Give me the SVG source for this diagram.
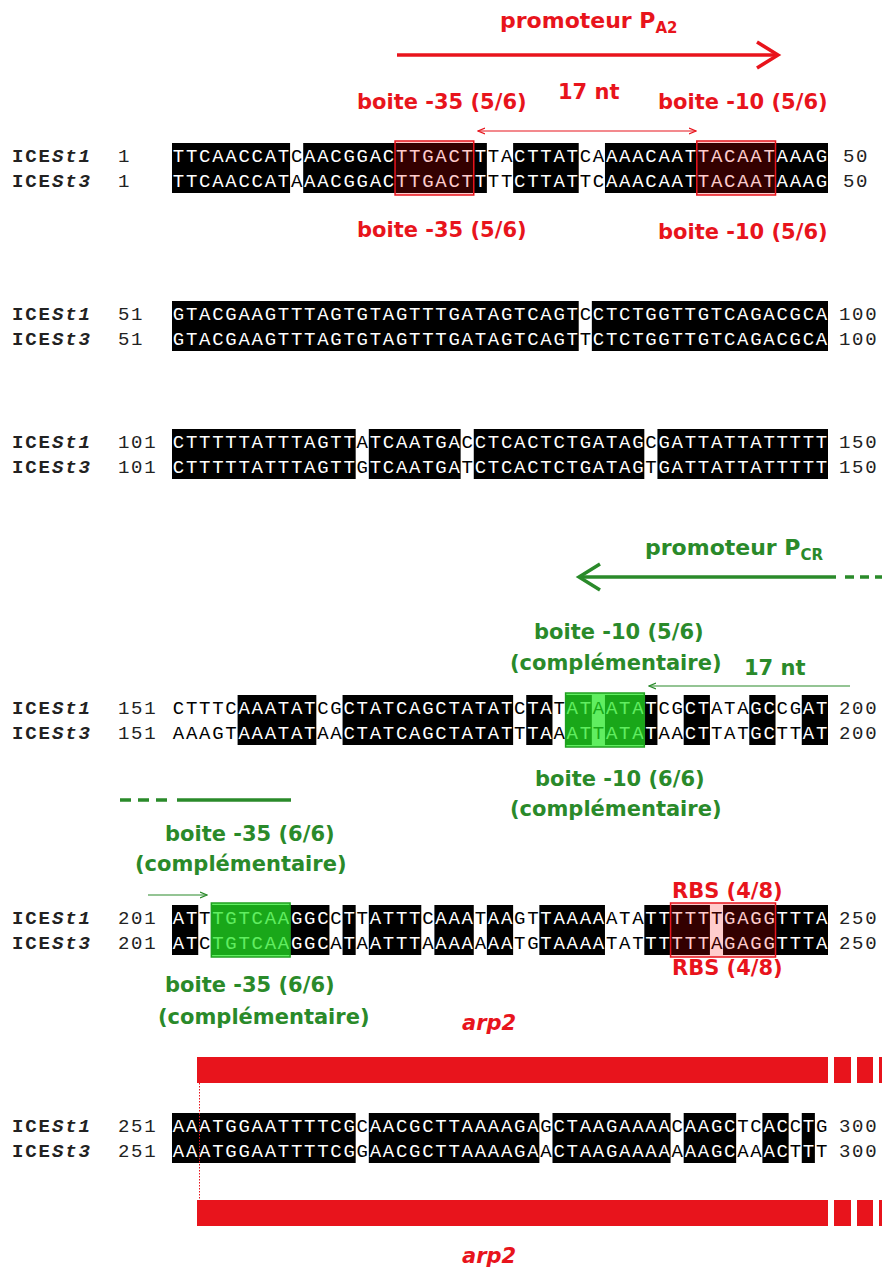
<svg xmlns="http://www.w3.org/2000/svg" width="882" height="1267" viewBox="0 0 882 1267">
<style>
.seq{font-family:"Liberation Mono",monospace;font-size:19px;letter-spacing:1.72px}
.w{fill:#fff}.k{fill:#000}
.lab{font-family:"Liberation Mono",monospace;font-weight:bold;font-size:19px;letter-spacing:1.9px;fill:#222}
.it{font-style:italic}
.num{font-family:"Liberation Mono",monospace;font-size:19px;letter-spacing:1.7px;fill:#222}
.ann{font-family:"DejaVu Sans",sans-serif;font-weight:bold;font-size:21px}
.big{font-size:22px}
.sub{font-size:15px}
.r{fill:#e8141c}.g{fill:#2a8a2a}
.blk{fill:#000}
.rbox{fill:#ff0000;fill-opacity:0.2;stroke:#e8141c;stroke-width:1.5}
.gbox{fill:#22e822;fill-opacity:0.72;stroke:#1fa01f;stroke-width:1.5}
.rl{stroke:#e8141c;fill:none}
.gl{stroke:#2a8a2a;fill:none}
.bar{fill:#e8141c}
</style>
<defs>
<marker id="ahr" markerWidth="8" markerHeight="8" refX="7" refY="4" orient="auto-start-reverse" markerUnits="userSpaceOnUse"><path d="M0,1 L7,4 L0,7" fill="none" stroke="#e8141c" stroke-width="1.2"/></marker>
<marker id="ahg" markerWidth="8" markerHeight="8" refX="7" refY="4" orient="auto-start-reverse" markerUnits="userSpaceOnUse"><path d="M0,1 L7,4 L0,7" fill="none" stroke="#2a8a2a" stroke-width="1.2"/></marker>
</defs>
<rect width="882" height="1267" fill="#fff"/>

<!-- Row 1 -->
<g id="row1">
<rect class="blk" x="172" y="143" width="118.08" height="50"/>
<rect class="blk" x="303.2" y="143" width="183.68" height="50"/>
<rect class="blk" x="513.12" y="143" width="65.6" height="50"/>
<rect class="blk" x="604.96" y="143" width="223.04" height="50"/>
<text class="lab" x="12" y="162">ICE<tspan class="it">St1</tspan></text>
<text class="lab" x="12" y="187">ICE<tspan class="it">St3</tspan></text>
<text class="num" x="118" y="162">1</text>
<text class="num" x="118" y="187">1</text>
<text class="seq" x="172.86" y="162"><tspan class="w">TTCAACCAT</tspan><tspan class="k">C</tspan><tspan class="w">AACGGACTTGACTT</tspan><tspan class="k">TA</tspan><tspan class="w">CTTAT</tspan><tspan class="k">CA</tspan><tspan class="w">AAACAATTACAATAAAG</tspan></text>
<text class="seq" x="172.86" y="187"><tspan class="w">TTCAACCAT</tspan><tspan class="k">A</tspan><tspan class="w">AACGGACTTGACTT</tspan><tspan class="k">TT</tspan><tspan class="w">CTTAT</tspan><tspan class="k">TC</tspan><tspan class="w">AAACAATTACAATAAAG</tspan></text>
<text class="num" x="843" y="162">50</text>
<text class="num" x="843" y="187">50</text>
<rect class="rbox" x="395.04" y="141" width="78.72" height="54"/>
<rect class="rbox" x="696.8" y="141" width="78.72" height="54"/>
</g>

<!-- Row 2 -->
<g id="row2">
<rect class="blk" x="172" y="301" width="406.72" height="50"/>
<rect class="blk" x="591.84" y="301" width="236.16" height="50"/>
<text class="lab" x="12" y="320">ICE<tspan class="it">St1</tspan></text>
<text class="lab" x="12" y="345">ICE<tspan class="it">St3</tspan></text>
<text class="num" x="118" y="320">51</text>
<text class="num" x="118" y="345">51</text>
<text class="seq" x="172.86" y="320"><tspan class="w">GTACGAAGTTTAGTGTAGTTTGATAGTCAGT</tspan><tspan class="k">C</tspan><tspan class="w">CTCTGGTTGTCAGACGCA</tspan></text>
<text class="seq" x="172.86" y="345"><tspan class="w">GTACGAAGTTTAGTGTAGTTTGATAGTCAGT</tspan><tspan class="k">T</tspan><tspan class="w">CTCTGGTTGTCAGACGCA</tspan></text>
<text class="num" x="839" y="320">100</text>
<text class="num" x="839" y="345">100</text>
</g>

<!-- Row 3 -->
<g id="row3">
<rect class="blk" x="172" y="429" width="183.68" height="50"/>
<rect class="blk" x="368.8" y="429" width="91.84" height="50"/>
<rect class="blk" x="473.76" y="429" width="170.56" height="50"/>
<rect class="blk" x="657.44" y="429" width="170.56" height="50"/>
<text class="lab" x="12" y="448">ICE<tspan class="it">St1</tspan></text>
<text class="lab" x="12" y="473">ICE<tspan class="it">St3</tspan></text>
<text class="num" x="118" y="448">101</text>
<text class="num" x="118" y="473">101</text>
<text class="seq" x="172.86" y="448"><tspan class="w">CTTTTTATTTAGTT</tspan><tspan class="k">A</tspan><tspan class="w">TCAATGA</tspan><tspan class="k">C</tspan><tspan class="w">CTCACTCTGATAG</tspan><tspan class="k">C</tspan><tspan class="w">GATTATTATTTTT</tspan></text>
<text class="seq" x="172.86" y="473"><tspan class="w">CTTTTTATTTAGTT</tspan><tspan class="k">G</tspan><tspan class="w">TCAATGA</tspan><tspan class="k">T</tspan><tspan class="w">CTCACTCTGATAG</tspan><tspan class="k">T</tspan><tspan class="w">GATTATTATTTTT</tspan></text>
<text class="num" x="839" y="448">150</text>
<text class="num" x="839" y="473">150</text>
</g>

<!-- Row 4 -->
<g id="row4">
<rect class="blk" x="237.6" y="695" width="78.72" height="50"/>
<rect class="blk" x="342.56" y="695" width="170.56" height="50"/>
<rect class="blk" x="526.24" y="695" width="26.24" height="50"/>
<rect class="blk" x="565.6" y="695" width="26.24" height="50"/>
<rect class="blk" x="604.96" y="695" width="52.48" height="50"/>
<rect class="blk" x="683.68" y="695" width="26.24" height="50"/>
<rect class="blk" x="749.28" y="695" width="26.24" height="50"/>
<rect class="blk" x="801.76" y="695" width="26.24" height="50"/>
<text class="lab" x="12" y="714">ICE<tspan class="it">St1</tspan></text>
<text class="lab" x="12" y="739">ICE<tspan class="it">St3</tspan></text>
<text class="num" x="118" y="714">151</text>
<text class="num" x="118" y="739">151</text>
<text class="seq" x="172.86" y="714"><tspan class="k">CTTTC</tspan><tspan class="w">AAATAT</tspan><tspan class="k">CG</tspan><tspan class="w">CTATCAGCTATAT</tspan><tspan class="k">C</tspan><tspan class="w">TA</tspan><tspan class="k">T</tspan><tspan class="w">AT</tspan><tspan class="k">A</tspan><tspan class="w">ATAT</tspan><tspan class="k">CG</tspan><tspan class="w">CT</tspan><tspan class="k">ATA</tspan><tspan class="w">GC</tspan><tspan class="k">CG</tspan><tspan class="w">AT</tspan></text>
<text class="seq" x="172.86" y="739"><tspan class="k">AAAGT</tspan><tspan class="w">AAATAT</tspan><tspan class="k">AA</tspan><tspan class="w">CTATCAGCTATAT</tspan><tspan class="k">T</tspan><tspan class="w">TA</tspan><tspan class="k">A</tspan><tspan class="w">AT</tspan><tspan class="k">T</tspan><tspan class="w">ATAT</tspan><tspan class="k">AA</tspan><tspan class="w">CT</tspan><tspan class="k">TAT</tspan><tspan class="w">GC</tspan><tspan class="k">TT</tspan><tspan class="w">AT</tspan></text>
<text class="num" x="839" y="714">200</text>
<text class="num" x="839" y="739">200</text>
<rect class="gbox" x="565.6" y="693" width="78.72" height="54"/>
</g>

<!-- Row 5 -->
<g id="row5">
<rect class="blk" x="172" y="905" width="26.24" height="50"/>
<rect class="blk" x="211.36" y="905" width="118.08" height="50"/>
<rect class="blk" x="342.56" y="905" width="13.12" height="50"/>
<rect class="blk" x="368.8" y="905" width="52.48" height="50"/>
<rect class="blk" x="434.4" y="905" width="39.36" height="50"/>
<rect class="blk" x="486.88" y="905" width="26.24" height="50"/>
<rect class="blk" x="539.36" y="905" width="65.6" height="50"/>
<rect class="blk" x="644.32" y="905" width="65.6" height="50"/>
<rect class="blk" x="723.04" y="905" width="104.96" height="50"/>
<text class="lab" x="12" y="924">ICE<tspan class="it">St1</tspan></text>
<text class="lab" x="12" y="949">ICE<tspan class="it">St3</tspan></text>
<text class="num" x="118" y="924">201</text>
<text class="num" x="118" y="949">201</text>
<text class="seq" x="172.86" y="924"><tspan class="w">AT</tspan><tspan class="k">T</tspan><tspan class="w">TGTCAAGGC</tspan><tspan class="k">C</tspan><tspan class="w">T</tspan><tspan class="k">T</tspan><tspan class="w">ATTT</tspan><tspan class="k">C</tspan><tspan class="w">AAA</tspan><tspan class="k">T</tspan><tspan class="w">AA</tspan><tspan class="k">GT</tspan><tspan class="w">TAAAA</tspan><tspan class="k">ATA</tspan><tspan class="w">TTTTT</tspan><tspan class="k">T</tspan><tspan class="w">GAGGTTTA</tspan></text>
<text class="seq" x="172.86" y="949"><tspan class="w">AT</tspan><tspan class="k">C</tspan><tspan class="w">TGTCAAGGC</tspan><tspan class="k">A</tspan><tspan class="w">T</tspan><tspan class="k">A</tspan><tspan class="w">ATTT</tspan><tspan class="k">A</tspan><tspan class="w">AAA</tspan><tspan class="k">A</tspan><tspan class="w">AA</tspan><tspan class="k">TG</tspan><tspan class="w">TAAAA</tspan><tspan class="k">TAT</tspan><tspan class="w">TTTTT</tspan><tspan class="k">A</tspan><tspan class="w">GAGGTTTA</tspan></text>
<text class="num" x="839" y="924">250</text>
<text class="num" x="839" y="949">250</text>
<rect class="gbox" x="211.36" y="903" width="78.72" height="54"/>
<rect class="rbox" x="670.56" y="903" width="104.96" height="54"/>
</g>

<!-- Row 6 -->
<g id="row6">
<rect class="blk" x="172" y="1113" width="183.68" height="50"/>
<rect class="blk" x="368.8" y="1113" width="170.56" height="50"/>
<rect class="blk" x="552.48" y="1113" width="118.08" height="50"/>
<rect class="blk" x="683.68" y="1113" width="52.48" height="50"/>
<rect class="blk" x="762.4" y="1113" width="26.24" height="50"/>
<rect class="blk" x="801.76" y="1113" width="13.12" height="50"/>
<text class="lab" x="12" y="1132">ICE<tspan class="it">St1</tspan></text>
<text class="lab" x="12" y="1157">ICE<tspan class="it">St3</tspan></text>
<text class="num" x="118" y="1132">251</text>
<text class="num" x="118" y="1157">251</text>
<text class="seq" x="172.86" y="1132"><tspan class="w">AAATGGAATTTTCG</tspan><tspan class="k">C</tspan><tspan class="w">AACGCTTAAAAGA</tspan><tspan class="k">G</tspan><tspan class="w">CTAAGAAAA</tspan><tspan class="k">C</tspan><tspan class="w">AAGC</tspan><tspan class="k">TC</tspan><tspan class="w">AC</tspan><tspan class="k">C</tspan><tspan class="w">T</tspan><tspan class="k">G</tspan></text>
<text class="seq" x="172.86" y="1157"><tspan class="w">AAATGGAATTTTCG</tspan><tspan class="k">G</tspan><tspan class="w">AACGCTTAAAAGA</tspan><tspan class="k">A</tspan><tspan class="w">CTAAGAAAA</tspan><tspan class="k">A</tspan><tspan class="w">AAGC</tspan><tspan class="k">AA</tspan><tspan class="w">AC</tspan><tspan class="k">T</tspan><tspan class="w">T</tspan><tspan class="k">T</tspan></text>
<text class="num" x="839" y="1132">300</text>
<text class="num" x="839" y="1157">300</text>
</g>

<!-- Annotation labels -->
<g id="lbl-promoteur-pa2"><text class="ann big r" x="500" y="28">promoteur P<tspan class="sub" dy="5">A2</tspan></text></g>
<g id="lbl-b35-top"><text class="ann r" x="357" y="109">boite -35 (5/6)</text></g>
<g id="lbl-17nt-red"><text class="ann r" x="558" y="99">17 nt</text></g>
<g id="lbl-b10-top"><text class="ann r" x="658" y="109">boite -10 (5/6)</text></g>
<g id="lbl-b35-bot"><text class="ann r" x="357" y="237">boite -35 (5/6)</text></g>
<g id="lbl-b10-bot"><text class="ann r" x="658" y="239">boite -10 (5/6)</text></g>

<g id="lbl-promoteur-pcr"><text class="ann big g" x="645" y="555">promoteur P<tspan class="sub" dy="5">CR</tspan></text></g>
<g id="lbl-b10-g-top"><text class="ann g" x="534" y="639">boite -10 (5/6)</text><text class="ann g" x="510" y="670">(complémentaire)</text></g>
<g id="lbl-17nt-green"><text class="ann g" x="744" y="675">17 nt</text></g>
<g id="lbl-b10-g-bot"><text class="ann g" x="535" y="786">boite -10 (6/6)</text><text class="ann g" x="510" y="816">(complémentaire)</text></g>
<g id="lbl-b35-g-top"><text class="ann g" x="165" y="841">boite -35 (6/6)</text><text class="ann g" x="135" y="871">(complémentaire)</text></g>
<g id="lbl-b35-g-bot"><text class="ann g" x="165" y="992">boite -35 (6/6)</text><text class="ann g" x="158" y="1024">(complémentaire)</text></g>
<g id="lbl-rbs-top"><text class="ann r" x="672" y="898">RBS (4/8)</text></g>
<g id="lbl-rbs-bot"><text class="ann r" x="672" y="975">RBS (4/8)</text></g>
<g id="lbl-arp2-top"><text class="ann r" x="462" y="1030" font-style="italic" font-size="23">arp2</text></g>
<g id="lbl-arp2-bot"><text class="ann r" x="462" y="1263" font-style="italic" font-size="23">arp2</text></g>

<!-- arp2 bars -->
<g id="arp2-bar-top">
<rect class="bar" x="197" y="1057" width="631" height="26"/>
<rect class="bar" x="834" y="1057" width="17" height="26"/>
<rect class="bar" x="857" y="1057" width="16" height="26"/>
<rect class="bar" x="879" y="1057" width="3" height="26"/>
</g>
<g id="arp2-bar-bot">
<rect class="bar" x="197" y="1200" width="631" height="26"/>
<rect class="bar" x="834" y="1200" width="17" height="26"/>
<rect class="bar" x="857" y="1200" width="16" height="26"/>
<rect class="bar" x="879" y="1200" width="3" height="26"/>
</g>

<!-- Connectors -->
<g id="connectors">
<line class="rl" x1="397" y1="55" x2="776" y2="55" stroke-width="3.5"/>
<polyline class="rl" points="757,42 778,55 757,68" stroke-width="3.5"/>
<line class="rl" x1="478" y1="131" x2="696" y2="131" stroke-width="1.2" marker-start="url(#ahr)" marker-end="url(#ahr)"/>

<line class="gl" x1="580" y1="577" x2="836" y2="577" stroke-width="3.5"/>
<polyline class="gl" points="600,564 579,577 600,590" stroke-width="3.5"/>
<line class="gl" x1="845" y1="577" x2="882" y2="577" stroke-width="3.5" stroke-dasharray="9 6"/>
<line class="gl" x1="850" y1="686" x2="649" y2="686" stroke-width="1.2" marker-end="url(#ahg)"/>

<line class="gl" x1="120" y1="800" x2="170" y2="800" stroke-width="3.5" stroke-dasharray="11 7"/>
<line class="gl" x1="177" y1="800" x2="291" y2="800" stroke-width="3.5"/>
<line class="gl" x1="148" y1="895" x2="207" y2="895" stroke-width="1.2" marker-end="url(#ahg)"/>

<line class="rl" x1="199.5" y1="1083" x2="199.5" y2="1200" stroke-width="1" stroke-dasharray="1.5 1.5"/>
</g>
</svg>
